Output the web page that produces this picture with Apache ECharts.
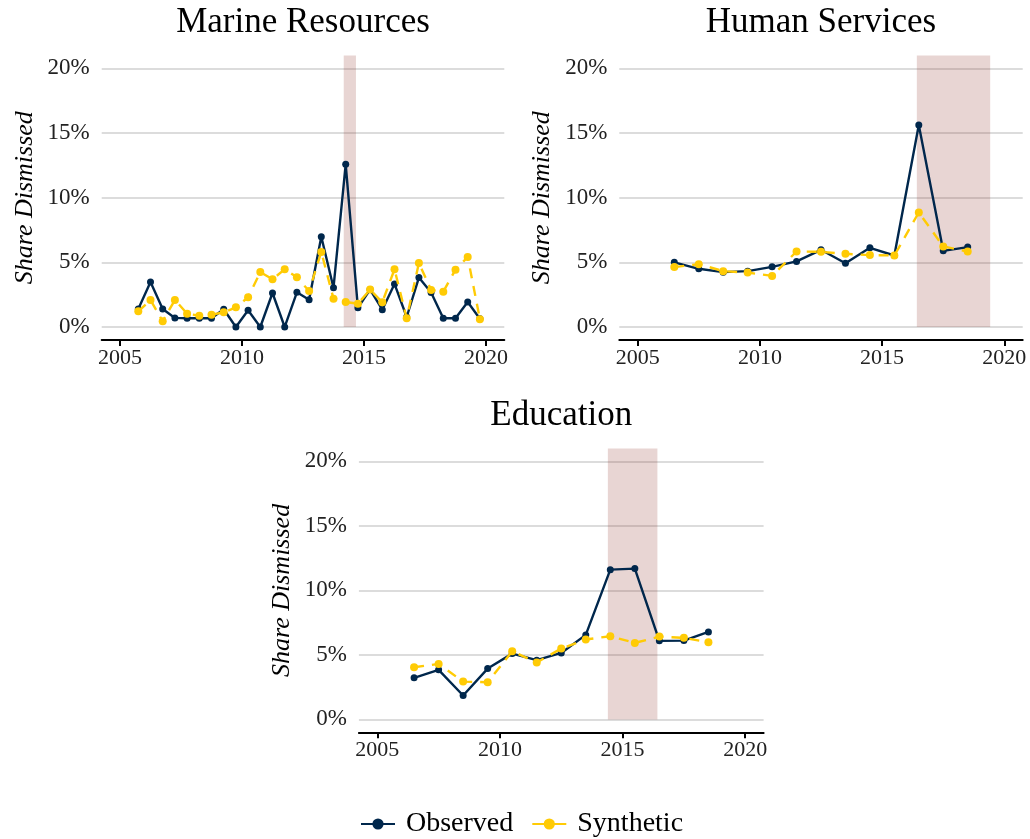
<!DOCTYPE html>
<html>
<head>
<meta charset="utf-8">
<script src="https://cdn.jsdelivr.net/npm/echarts@6/dist/echarts.min.js"></script>
<style>
  html, body { margin: 0; padding: 0; background: #ffffff; }
  #chart { width: 1030px; height: 839px; }
</style>
</head>
<body>
<div id="chart"></div>
<script>
// Tick labels
const xTicks = [2005, 2010, 2015, 2020];
const yTicks = [0, 5, 10, 15, 20];

// Marine Resources (half-year periods, share dismissed in %)
const marineYears = [2005.75, 2006.25, 2006.75, 2007.25, 2007.75, 2008.25, 2008.75, 2009.25, 2009.75, 2010.25,
  2010.75, 2011.25, 2011.75, 2012.25, 2012.75, 2013.25, 2013.75, 2014.25, 2014.75, 2015.25,
  2015.75, 2016.25, 2016.75, 2017.25, 2017.75, 2018.25, 2018.75, 2019.25, 2019.75];
const marineObserved = [1.39, 3.48, 1.39, 0.70, 0.67, 0.67, 0.67, 1.37, 0.00, 1.29,
  0.00, 2.63, 0.00, 2.68, 2.11, 6.98, 3.04, 12.58, 1.49, 2.89,
  1.34, 3.33, 0.77, 3.82, 2.66, 0.67, 0.67, 1.93, 0.64];
const marineSynthetic = [1.21, 2.09, 0.44, 2.09, 1.03, 0.87, 0.95, 1.13, 1.52, 2.30,
  4.25, 3.69, 4.46, 3.84, 2.78, 5.80, 2.19, 1.93, 1.80, 2.89,
  1.91, 4.46, 0.67, 4.95, 2.86, 2.73, 4.43, 5.41, 0.60];
const marineWindow = [2014.17, 2014.67];

// Human Services (yearly)
const humanYears = [2006.5, 2007.5, 2008.5, 2009.5, 2010.5, 2011.5, 2012.5, 2013.5, 2014.5, 2015.5, 2016.5, 2017.5, 2018.5];
const humanObserved = [5.00, 4.50, 4.24, 4.32, 4.65, 5.07, 5.97, 4.93, 6.12, 5.53, 15.63, 5.89, 6.18];
const humanSynthetic = [4.63, 4.86, 4.32, 4.21, 3.95, 5.84, 5.81, 5.66, 5.56, 5.53, 8.86, 6.23, 5.84];
const humanWindow = [2016.42, 2019.42];

// Education (yearly)
const eduYears = [2006.5, 2007.5, 2008.5, 2009.5, 2010.5, 2011.5, 2012.5, 2013.5, 2014.5, 2015.5, 2016.5, 2017.5, 2018.5];
const eduObserved = [3.22, 3.84, 1.85, 3.94, 5.10, 4.59, 5.15, 6.55, 11.61, 11.69, 6.09, 6.11, 6.78];
const eduSynthetic = [4.04, 4.30, 2.93, 2.88, 5.28, 4.41, 5.49, 6.19, 6.45, 5.93, 6.42, 6.32, 5.98];
const eduWindow = [2014.40, 2016.42];

const NAVY = '#00274C';
const MAIZE = '#FFCB05';
const SERIF = '"Liberation Serif", "DejaVu Serif", serif';
const X_MIN = 2004.25, X_MAX = 2020.75;
const Y_MIN = -1, Y_MAX = 21;

const panels = [
  { title: 'Marine Resources', years: marineYears, obs: marineObserved, syn: marineSynthetic, win: marineWindow,
    left: 101.7, top: 55.5, width: 402.6, height: 284.4 },
  { title: 'Human Services', years: humanYears, obs: humanObserved, syn: humanSynthetic, win: humanWindow,
    left: 619.3, top: 55.5, width: 403.4, height: 284.4 },
  { title: 'Education', years: eduYears, obs: eduObserved, syn: eduSynthetic, win: eduWindow,
    left: 358.9, top: 448.5, width: 404.7, height: 283.8 }
];

const grid = [], xAxis = [], yAxis = [], series = [], graphic = [];

panels.forEach((p, i) => {
  const pxPerUnit = p.height / (Y_MAX - Y_MIN);
  // plotting grid (full expanded range)
  grid.push({ left: p.left, top: p.top, width: p.width, height: p.height, containLabel: false });
  // reference grid spanning 0%..20% for the horizontal gridlines and labels
  grid.push({ left: p.left, top: p.top + (Y_MAX - 20) * pxPerUnit, width: p.width, height: 20 * pxPerUnit, containLabel: false });

  xAxis.push({
    type: 'value', gridIndex: 2 * i, min: X_MIN, max: X_MAX,
    axisLine: { show: true, onZero: false, lineStyle: { color: '#000', width: 2 } },
    axisTick: { show: true, customValues: xTicks, length: 6, lineStyle: { color: '#000', width: 2 } },
    axisLabel: { customValues: xTicks, formatter: v => String(v), color: '#222', fontFamily: SERIF, fontSize: 22, margin: 7 },
    splitLine: { show: false }
  });
  xAxis.push({ type: 'value', gridIndex: 2 * i + 1, min: X_MIN, max: X_MAX, show: false });

  yAxis.push({ type: 'value', gridIndex: 2 * i, min: Y_MIN, max: Y_MAX, show: false });
  yAxis.push({
    type: 'value', gridIndex: 2 * i + 1, min: yTicks[0], max: yTicks[yTicks.length - 1], interval: 5,
    axisLine: { show: false }, axisTick: { show: false },
    axisLabel: { formatter: '{value}%', color: '#222', fontFamily: SERIF, fontSize: 23, margin: 12 },
    splitLine: { show: true, lineStyle: { color: '#dcdcdc', width: 2 } },
    name: 'Share Dismissed', nameLocation: 'middle', nameGap: 64,
    nameTextStyle: { fontFamily: SERIF, fontStyle: 'italic', fontSize: 26, color: '#000' }
  });

  series.push({
    name: 'Observed', type: 'line', xAxisIndex: 2 * i, yAxisIndex: 2 * i,
    data: p.years.map((y, k) => [y, p.obs[k]]),
    symbol: 'circle', symbolSize: 7, showAllSymbol: true,
    lineStyle: { color: NAVY, width: 2.4 }, itemStyle: { color: NAVY },
    z: 3, animation: false,
    markArea: {
      silent: true,
      itemStyle: { color: 'rgba(140, 45, 35, 0.2)' },
      data: [[{ xAxis: p.win[0], yAxis: 0 }, { xAxis: p.win[1], yAxis: Y_MAX }]]
    }
  });
  series.push({
    name: 'Synthetic', type: 'line', xAxisIndex: 2 * i, yAxisIndex: 2 * i,
    data: p.years.map((y, k) => [y, p.syn[k]]),
    symbol: 'circle', symbolSize: 8, showAllSymbol: true,
    lineStyle: { color: MAIZE, width: 2.4, type: [10, 8] }, itemStyle: { color: MAIZE },
    z: 4, animation: false
  });

  graphic.push({
    type: 'text', x: p.left + p.width / 2, y: p.top - 33,
    style: { text: p.title, font: '35px ' + SERIF, fill: '#000', textAlign: 'center', textVerticalAlign: 'middle' }
  });
});

const chart = echarts.init(document.getElementById('chart'), null, { renderer: 'canvas' });
chart.setOption({
  backgroundColor: '#ffffff',
  animation: false,
  grid, xAxis, yAxis, series, graphic,
  legend: {
    left: 355, top: 805, itemWidth: 34, itemHeight: 14, itemGap: 18,
    textStyle: { fontFamily: SERIF, fontSize: 28, color: '#000', padding: [0, 0, 0, 6] },
    data: [
      { name: 'Observed' },
      { name: 'Synthetic', lineStyle: { type: 'solid' } }
    ]
  }
});
</script>
</body>
</html>
